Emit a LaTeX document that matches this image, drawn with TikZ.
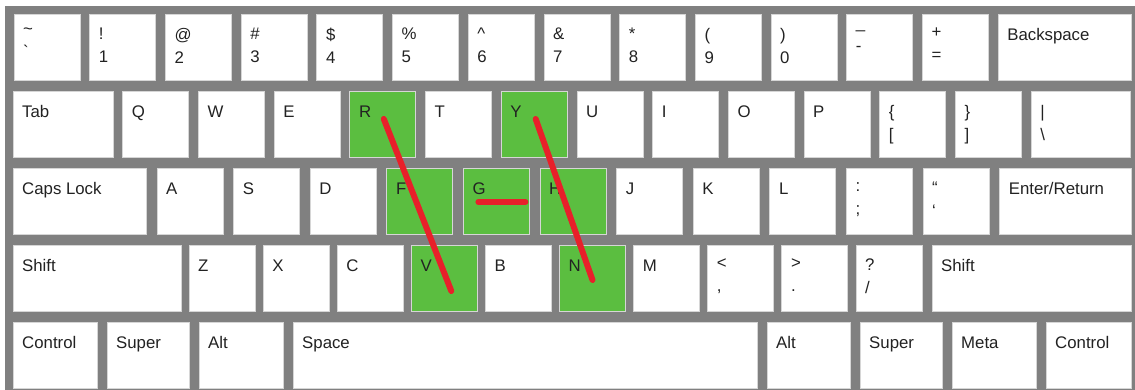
\documentclass[tikz,border=0pt]{standalone}
\usepackage{fontspec}
\setmainfont{Liberation Sans}
\usetikzlibrary{positioning, calc}

\definecolor{boardgray}{RGB}{128,128,128}
\definecolor{keyedge}{RGB}{214,214,214}
\definecolor{hotgreen}{RGB}{91,190,64}
\definecolor{strokered}{RGB}{232,32,42}
\definecolor{captext}{RGB}{34,34,34}

\begin{document}
\begin{tikzpicture}[
    x=1pt, y=-1pt,
    font=\fontsize{16.8}{23}\selectfont,
    keybox/.style={draw=keyedge, line width=0.8pt, fill=white, inner sep=0pt,
                   outer sep=0pt, minimum width=66pt, minimum height=66pt},
    hotkey/.style={keybox, fill=hotgreen},
    keycap/.style={anchor=north west, inner sep=0pt, xshift=9pt, yshift=-14pt,
                   align=left, text=captext,
                   execute at begin node={\rule{0pt}{12pt}}},
    swipe/.style={draw=strokered, line width=6pt, line cap=round}
]

%% ---- board -------------------------------------------------------
\fill[white] (0,0) rectangle (1135,390);
\fill[boardgray] (5,6) rectangle (1135,390);

%% ---- number row --------------------------------------------------
\node[keybox, anchor=north west,
      label={[keycap]north west:{\textasciitilde\\\textasciigrave}}] (tilde) at (14,14) {};
\foreach \n/\t [remember=\n as \p (initially tilde)] in
    {one/{!\\1}, two/{@\\2}, three/{\#\\3}, four/{\$\\4}, five/{\%\\5},
     six/{\textasciicircum\\6}, seven/{\&\\7}, eight/{*\\8}, nine/{(\\9},
     zero/{)\\0}, minus/{\_\\-}, equal/{+\\=}}
  \node[keybox, right=9.7pt of \p, label={[keycap]north west:{\t}}] (\n) {};
\node[keybox, minimum width=133pt, right=9.7pt of equal,
      label={[keycap]north west:Backspace}] (bksp) {};

%% ---- top letter row ----------------------------------------------
\node[keybox, minimum width=100pt, anchor=north west,
      label={[keycap]north west:Tab}] (tab) at (13,91) {};
\foreach \n/\t/\s [remember=\n as \p (initially tab)] in
    {q/Q/keybox, w/W/keybox, e/E/keybox, r/R/hotkey, t/T/keybox, y/Y/hotkey,
     u/U/keybox, i/I/keybox, o/O/keybox, p/P/keybox,
     lbrack/{\{\\{}[}/keybox, rbrack/{\}\\]}/keybox}
  \node[\s, right=9.7pt of \p, label={[keycap]north west:{\t}}] (\n) {};
\node[keybox, minimum width=99.6pt, right=9.7pt of rbrack,
      label={[keycap]north west:{\textbar\\\textbackslash}}] (bslash) {};

%% ---- home row ----------------------------------------------------
\node[keybox, minimum width=133.4pt, anchor=north west,
      label={[keycap]north west:Caps Lock}] (caps) at (13,168) {};
\foreach \n/\t/\s [remember=\n as \p (initially caps)] in
    {a/A/keybox, s/S/keybox, d/D/keybox, f/F/hotkey, g/G/hotkey, h/H/hotkey,
     j/J/keybox, k/K/keybox, l/L/keybox, semi/{:\\;}/keybox, quote/{“\\‘}/keybox}
  \node[\s, right=10.6pt of \p, label={[keycap]north west:{\t}}] (\n) {};
\node[keybox, minimum width=131.4pt, right=10.6pt of quote,
      label={[keycap]north west:Enter/Return}] (enter) {};

%% ---- bottom letter row -------------------------------------------
\node[keybox, minimum width=167.9pt, anchor=north west,
      label={[keycap]north west:Shift}] (lshift) at (13,245) {};
\foreach \n/\t/\s [remember=\n as \p (initially lshift)] in
    {z/Z/keybox, x/X/keybox, c/C/keybox, v/V/hotkey, b/B/keybox, n/N/hotkey,
     m/M/keybox, comma/{<\\,}/keybox, period/{>\\.}/keybox, slash/{?\\/}/keybox}
  \node[\s, right=8.1pt of \p, label={[keycap]north west:{\t}}] (\n) {};
\node[keybox, minimum width=199.1pt, right=10pt of slash,
      label={[keycap]north west:Shift}] (rshift) {};

%% ---- space row ---------------------------------------------------
\node[keybox, minimum width=84pt, anchor=north west,
      label={[keycap]north west:Control}] (lctrl) at (13,322) {};
\foreach \n/\w/\t [remember=\n as \p (initially lctrl)] in
    {lsuper/82/Super, lalt/84/Alt, space/464/Space, ralt/83/Alt,
     rsuper/82/Super, meta/84/Meta, rctrl/85/Control}
  \node[keybox, minimum width=\w pt, right=10pt of \p,
        label={[keycap]north west:{\t}}] (\n) {};

%% ---- swipes ------------------------------------------------------
\draw[swipe] ($(r.center)+(1,-5)$) -- ($(v.center)+(7,13)$);
\draw[swipe] ($(y.center)+(1.5,-5)$) -- ($(n.center)+(0,2)$);
\draw[swipe] ($(g.center)+(-18,1)$) -- ($(g.center)+(29,1)$);

\end{tikzpicture}
\end{document}
